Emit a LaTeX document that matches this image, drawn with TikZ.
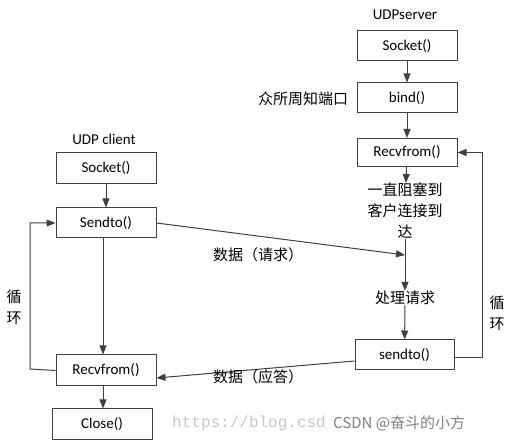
\documentclass[tikz,border=0pt]{standalone}
\usepackage{fontspec}
\setmainfont{Carlito}
\newfontfamily\cjk{Noto Sans CJK SC}
\newfontfamily\wmmono{Liberation Mono}
\usetikzlibrary{arrows.meta}
\tikzset{
  box/.style={draw=black!75, line width=1pt, minimum width=100pt, minimum height=30pt, inner sep=0pt, font=\fontsize{15}{17}\selectfont},
  lbl/.style={inner sep=0pt, font=\fontsize{15}{17}\selectfont},
  zh/.style={inner sep=0pt, font=\fontsize{15}{21}\selectfont\cjk, align=center},
  conn/.style={draw=black!75, line width=1pt},
  arr/.style={conn, -{Triangle[length=9pt,width=7pt]}},
}
\begin{document}
\begin{tikzpicture}[x=1pt,y=-1pt]
\useasboundingbox[fill=white] (0,0) rectangle (517,443);
% server
\node[lbl] (srvlabel) at (405,15) {UDPserver};
\node[box] (ssock) at (407,46) {Socket()};
\node[box] (sbind) at (407,98) {bind()};
\node[box, minimum height=28pt] (srecv) at (407,152.5) {Recvfrom()};
\node[zh] (lport) at (303,99) {众所周知端口};
\node[zh] (block) at (405,211) {一直阻塞到\\客户连接到\\达};
\node[zh] (proc) at (405,298) {处理请求};
\node[box, minimum width=99pt] (ssend) at (404.5,355) {sendto()};
\node[zh] (sloop) at (497,313) {循\\环};
\coordinate (meet) at (405,255);
\coordinate (sright) at (482,358);
\draw[arr] (ssock) -- (sbind);
\draw[arr] (sbind) -- (srecv);
\draw[arr] (srecv) -- (block);
\draw[arr] (block) -- (proc);
\draw[arr] (proc) -- (ssend);
\draw[arr] ([yshift=-3pt]ssend.east) -- (sright) |- (srecv.east);
% client
\node[lbl] (clabel) at (104,139) {UDP client};
\node[box, minimum height=31pt] (csock) at (106,168.5) {Socket()};
\node[box] (csend) at (106,223) {Sendto()};
\node[box, minimum height=31pt] (crecv) at (106,370.5) {Recvfrom()};
\node[box, minimum height=31pt] (cclose) at (102,424.5) {Close()};
\node[zh] (cloop) at (14,307) {循\\环};
\coordinate (cleft) at (30,369);
\draw[arr] (csock) -- (csend);
\draw[arr] ([xshift=-3pt]csend.south) -- ([xshift=-3pt]crecv.north);
\draw[arr] ([xshift=-3pt]crecv.south) -- ([xshift=1pt]cclose.north);
\draw[arr] (crecv.west) -- (cleft) |- (csend.west);
% messages
\draw[arr] (csend.east) -- (meet);
\node[zh] (req) at (258,255) {数据（请求）};
\draw[arr] ([yshift=-6pt]ssend.west) -- ([yshift=-7.5pt]crecv.east);
\node[zh] (resp) at (258,377) {数据（应答）};
% watermark
\node[inner sep=0pt, anchor=west, text=black!22, font=\fontsize{16}{17}\selectfont\wmmono] (wm1) at (172,423) {https://blog.csd};
\node[inner sep=0pt, anchor=west, text=black!50, font=\fontsize{15}{16}\selectfont\cjk] (wm2) at (333,423) {CSDN @奋斗的小方};
\end{tikzpicture}
\end{document}
